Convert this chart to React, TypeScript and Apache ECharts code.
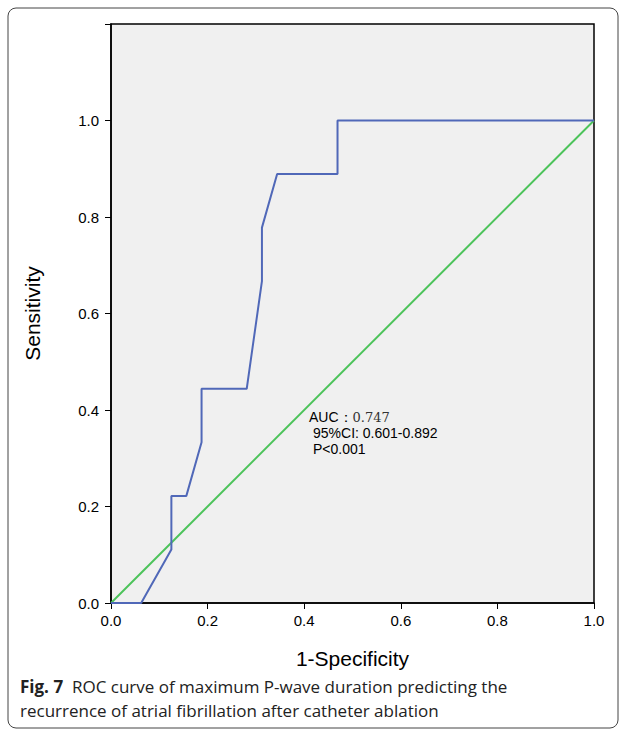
import { useEffect, useRef } from 'react'
import * as echarts from 'echarts'

const rocX = [0, 0.0625, 0.125, 0.125, 0.156, 0.1875, 0.1875, 0.281, 0.3125, 0.3125, 0.344, 0.469, 0.469, 1.0]
const rocY = [0, 0, 0.111, 0.222, 0.222, 0.333, 0.444, 0.444, 0.667, 0.778, 0.889, 0.889, 1.0, 1.0]
const refX = [0, 1]
const refY = [0, 1]

export default function App() {
  const ref = useRef<HTMLDivElement>(null)

  useEffect(() => {
    document.body.style.margin = '0'
    if (!ref.current) return
    const chart = echarts.init(ref.current, undefined, { renderer: 'svg' })
    const axisLabel = { color: '#000', fontSize: 15, fontFamily: 'Liberation Sans' }
    const nameStyle = { fontSize: 21, color: '#000', fontFamily: 'Liberation Sans' }
    chart.setOption({
      animation: false,
      backgroundColor: '#fff',
      grid: { left: 111, top: 24, width: 483, height: 579, backgroundColor: '#f0f0f0', show: true, borderWidth: 1.5, borderColor: '#000' },
      xAxis: {
        type: 'value', min: 0, max: 1, interval: 0.2,
        name: '1-Specificity', nameLocation: 'middle', nameGap: 45, nameTextStyle: nameStyle,
        axisLine: { show: true, lineStyle: { color: '#000', width: 1.5 } },
        axisTick: { show: true, length: 6, lineStyle: { color: '#000' } },
        axisLabel: { ...axisLabel, formatter: (v: number) => v.toFixed(1), margin: 10 },
        splitLine: { show: false },
      },
      yAxis: {
        type: 'value', min: 0, max: 1.2, interval: 0.2,
        name: 'Sensitivity', nameLocation: 'middle', nameGap: 68, nameTextStyle: nameStyle,
        axisLine: { show: true, lineStyle: { color: '#000', width: 1.5 } },
        axisTick: { show: true, length: 6, lineStyle: { color: '#000' } },
        axisLabel: { ...axisLabel, formatter: (v: number) => (v > 1.05 ? '' : v.toFixed(1)), margin: 12 },
        splitLine: { show: false },
      },
      series: [
        {
          type: 'line', data: refX.map((x, i) => [x, refY[i]]), symbol: 'none',
          lineStyle: { color: '#4cc35a', width: 2 },
        },
        {
          type: 'line', data: rocX.map((x, i) => [x, rocY[i]]), symbol: 'none',
          lineStyle: { color: '#5068b8', width: 2 },
        },
      ],
      graphic: [
        { type: 'rect', shape: { x: 8, y: 8, width: 610, height: 720, r: 8 }, style: { fill: 'none', stroke: '#444', lineWidth: 1 }, z: -1 },
        { type: 'text', x: 309, y: 410, style: { text: 'AUC：{s|0.747}', fontSize: 14, fontFamily: 'Liberation Sans', fill: '#000', rich: { s: { fontFamily: 'DejaVu Serif', fontSize: 13, fill: '#333' } } } },
        { type: 'text', x: 313, y: 426, style: { text: '95%CI: 0.601-0.892', fontSize: 14, fontFamily: 'Liberation Sans', fill: '#000' } },
        { type: 'text', x: 313, y: 442, style: { text: 'P<0.001', fontSize: 14, fontFamily: 'Liberation Sans', fill: '#000' } },
        { type: 'text', x: 20, y: 678, style: { text: '{b|Fig. 7}  ROC curve of maximum P-wave duration predicting the', fontSize: 17, fontFamily: 'Open Sans', fill: '#222', rich: { b: { fontWeight: 'bold', fontSize: 17, fontFamily: 'Open Sans', fill: '#222' } } } },
        { type: 'text', x: 20, y: 702, style: { text: 'recurrence of atrial fibrillation after catheter ablation', fontSize: 17, fontFamily: 'Open Sans', fill: '#222' } },
      ],
    })
    return () => chart.dispose()
  }, [])

  return <div ref={ref} style={{ width: 626, height: 733 }} />
}
